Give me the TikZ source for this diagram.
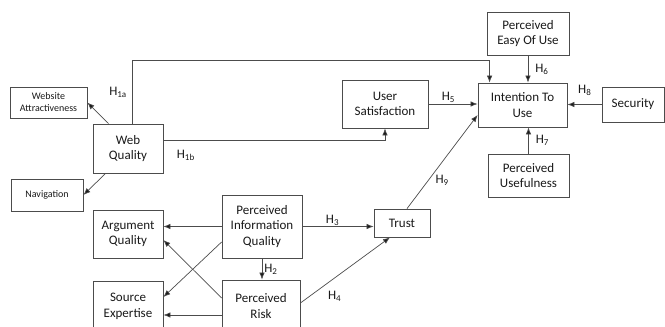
\documentclass[tikz,border=0pt]{standalone}
\usepackage{fontspec}
\setmainfont{Carlito}
\usetikzlibrary{arrows.meta}

\newcommand{\hlab}[1]{H\raisebox{-2pt}{\fontsize{9}{9}\selectfont #1}}

\begin{document}
\begin{tikzpicture}[x=1pt,y=-1pt]
\tikzset{box/.style = {draw=black!70, line width=0.8pt, align=center, text=black!90, font=\fontsize{13}{15.5}\selectfont, inner sep=1pt}}
\tikzset{smallbox/.style = {box, font=\fontsize{10}{12}\selectfont}}
\tikzset{edge/.style = {->,>={Latex[length=7pt,width=5.5pt,fill=black!90]}, draw=black!70, line width=0.7pt}}
\tikzset{hyp/.style = {text=black!90, font=\fontsize{13}{15.5}\selectfont, inner sep=1pt}}
\useasboundingbox (0,0) rectangle (665,327);

\node[smallbox, minimum width=77pt, minimum height=31pt] (attr) at (48.5,102.5) {Website\\Attractiveness};
\node[box, minimum width=70pt, minimum height=49pt] (web) at (128,148.5) {Web\\Quality};
\node[smallbox, minimum width=72pt, minimum height=32pt] (nav) at (47,195) {Navigation};

\node[box, minimum width=86pt, minimum height=48pt] (usersat) at (385,104) {User\\Satisfaction};
\node[box, minimum width=89pt, minimum height=44pt] (intent) at (522.5,105) {Intention To\\Use};
\node[box, minimum width=82pt, minimum height=43pt] (easy) at (528,33.5) {Perceived\\Easy Of Use};
\node[box, minimum width=62pt, minimum height=35pt] (security) at (633,104.5) {Security};
\node[box, minimum width=81pt, minimum height=43pt] (useful) at (528.5,175.5) {Perceived\\Usefulness};

\node[box, minimum width=70pt, minimum height=48pt] (argq) at (128,234) {Argument\\Quality};
\node[box, minimum width=80pt, minimum height=63pt] (piq) at (262,226.5) {Perceived\\Information\\Quality};
\node[box, minimum width=56pt, minimum height=28pt] (trust) at (402,223) {Trust};
\node[box, minimum width=70pt, minimum height=51pt] (source) at (128,306.5) {Source\\Expertise};
\node[box, minimum width=78pt, minimum height=52pt] (risk) at (261,306) {Perceived\\Risk};

% web quality
\draw[edge] ([xshift=16pt]web.north west) -- (attr.east);
\draw[edge] ([xshift=13pt]web.south west) -- (nav.east);
\draw[edge] ([xshift=40pt]web.north west) -- node[hyp, left=5pt] (h1a) {\hlab{1a}} ++(0,-63) -| ([xshift=12pt]intent.north west);
\draw[edge] ([yshift=8.5pt]web.east) -| node[hyp, pos=0.05, below=9pt] (h1b) {\hlab{1b}} (usersat.south);

% intention to use
\draw[edge] (usersat.east) -- node[hyp, pos=0.4, above=0pt] (h5) {\hlab{5}} (usersat.east -| intent.west);
\draw[edge] (easy.south) -- node[hyp, right=6pt] (h6) {\hlab{6}} (easy.south |- intent.north);
\draw[edge] (useful.north) -- node[hyp, right=6pt] (h7) {\hlab{7}} (useful.north |- intent.south);
\draw[edge] (security.west) -- node[hyp, above=8pt] (h8) {\hlab{8}} (security.west -| intent.east);
\draw[edge] ([xshift=5pt]trust.north) -- node[hyp, pos=0.3, right=6pt] (h9) {\hlab{9}} ([yshift=-10pt]intent.west);

% information quality and risk
\draw[edge] (piq.west) -- (piq.west -| argq.east);
\draw[edge] ([yshift=-15.5pt]piq.west) -- ([yshift=9.5pt]source.east);
\draw[edge] ([yshift=8pt]risk.west) -- ([yshift=-6pt]argq.east);
\draw[edge] ([yshift=-9pt]risk.west) -- ([yshift=-9pt]risk.west -| source.east);
\draw[edge] (piq.south) -- node[hyp, right=1pt] (h2) {\hlab{2}} (piq.south |- risk.north);
\draw[edge] (piq.east) -- node[hyp, pos=0.42, above=0pt] (h3) {\hlab{3}} (piq.east -| trust.west);
\draw[edge] ([yshift=3pt]risk.east) -- node[hyp, pos=0.38, below=12pt] (h4) {\hlab{4}} ([xshift=-12pt]trust.south);

\end{tikzpicture}
\end{document}
